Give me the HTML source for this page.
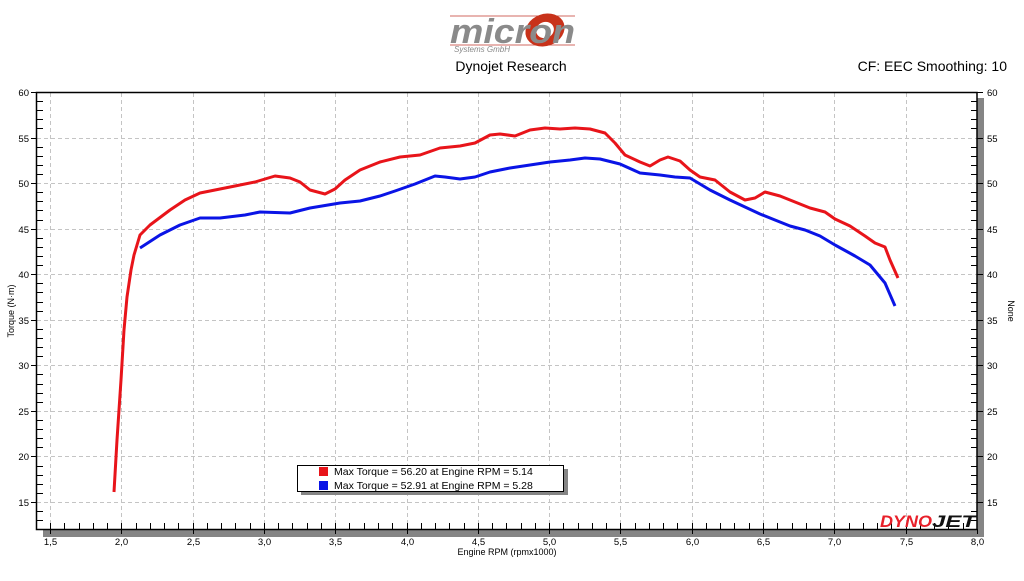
<!DOCTYPE html>
<html><head><meta charset="utf-8"><style>
body{margin:0;background:#fff;width:1024px;height:576px;overflow:hidden}
svg text{font-family:"Liberation Sans","DejaVu Sans",sans-serif}
</style></head><body>
<svg id="s" width="1024" height="576" viewBox="0 0 1024 576" xmlns="http://www.w3.org/2000/svg">
<rect width="1024" height="576" fill="#fff"/>
<!-- logo -->
<line x1="450" y1="16" x2="575" y2="16" stroke="#c0392b" stroke-width="0.8"/>
<line x1="450" y1="45" x2="575" y2="45" stroke="#c0392b" stroke-width="0.8"/>
<ellipse cx="545" cy="30" rx="20" ry="16" fill="#c8321a" transform="rotate(-20 545 30)"/>
<ellipse cx="545" cy="30" rx="9" ry="8" fill="#fff" transform="rotate(-20 545 30)"/>
<text x="450" y="43" font-size="34" font-style="italic" font-weight="bold" fill="#8a8a8a" textLength="125" lengthAdjust="spacingAndGlyphs">micron</text>
<text x="454" y="52" font-size="8" fill="#888" font-style="italic">Systems GmbH</text>
<text x="511" y="71" font-size="14" text-anchor="middle" fill="#000">Dynojet Research</text>
<text x="1007" y="71" font-size="14" text-anchor="end" fill="#000">CF: EEC Smoothing: 10</text>
<!-- shadows -->
<rect x="43" y="530" width="941" height="7" fill="#858585"/>
<rect x="977" y="98" width="7" height="439" fill="#858585"/>
<g id="grid" stroke="#c4c4c4" stroke-dasharray="4,3" stroke-width="1"></g>
<g id="ticks" stroke="#000" stroke-width="1"></g>
<rect x="36.5" y="92.5" width="940.5" height="437" fill="none" stroke="#000" stroke-width="1.5"/>
<g id="lbl" font-size="9.5" fill="#000"></g>
<text x="0" y="0" font-size="9" transform="translate(14 311) rotate(-90)" text-anchor="middle">Torque (N·m)</text>
<text x="0" y="0" font-size="9" transform="translate(1008 311) rotate(90)" text-anchor="middle">None</text>
<text x="507" y="555" font-size="9" text-anchor="middle">Engine RPM (rpmx1000)</text>
<polyline fill="none" stroke="#e8141a" stroke-width="3" stroke-linejoin="round" points="114,492 117,440 121,380 124,330 127,297 131,270 134,255 140,235 150,225 170,210 185,200 200,193 215,190 235,186 255,182 275,176 290,178 300,182 310,190 325,194 335,189 345,180 360,170 380,162 400,157 420,155 440,148 460,146 475,143 490,135 500,134 515,136 530,130 545,128 560,129 575,128 590,129 605,133 615,143 625,155 640,162 650,166 660,160 668,157 680,161 690,170 700,177 715,180 730,192 745,200 755,198 765,192 780,196 795,202 810,208 825,212 835,219 850,226 865,236 875,243 885,247 890,260 898,278"/>
<polyline fill="none" stroke="#0a14e6" stroke-width="3" stroke-linejoin="round" points="140,248 160,235 180,225 200,218 220,218 245,215 260,212 290,213 310,208 340,203 360,201 380,196 395,191 415,184 435,176 445,177 460,179 475,177 490,172 510,168 530,165 550,162 570,160 585,158 600,159 620,164 640,173 660,175 675,177 690,178 710,190 730,200 745,207 760,214 775,220 790,226 805,230 820,236 835,245 855,256 870,265 885,283 895,306"/>
<!-- legend -->
<rect x="301" y="469" width="267" height="26" fill="#858585"/>
<rect x="297.5" y="465.5" width="266" height="26" fill="#fff" stroke="#000"/>
<rect x="319" y="467" width="9" height="9" fill="#e8141a"/>
<rect x="319" y="481" width="9" height="9" fill="#0a14e6"/>
<text x="334" y="475" font-size="10.5">Max Torque = 56.20 at Engine RPM = 5.14</text>
<text x="334" y="489" font-size="10.5">Max Torque = 52.91 at Engine RPM = 5.28</text>
<!-- dynojet -->
<text x="880" y="527" font-size="17" font-weight="bold" font-style="italic" fill="#e8202a" textLength="52" lengthAdjust="spacingAndGlyphs">DYNO</text>
<text x="932" y="527" font-size="17" font-weight="bold" font-style="italic" fill="#111" textLength="44" lengthAdjust="spacingAndGlyphs">JET</text>
</svg>
<script>
var NS="http://www.w3.org/2000/svg";
function el(p,t,a,txt){var e=document.createElementNS(NS,t);for(var k in a)e.setAttribute(k,a[k]);if(txt!=null)e.textContent=txt;document.getElementById(p).appendChild(e);}
function X(r){return 50+(r-1.5)*142.6}
function Y(v){return 92+(60-v)*9.111}
for(var i=0;i<=13;i++){var r=1.5+i*0.5,x=Math.round(X(r))+0.5;
 if(i<13)el("grid","line",{x1:x,y1:93,x2:x,y2:529});
 el("ticks","line",{x1:x,y1:529,x2:x,y2:534});
 el("lbl","text",{x:x,y:545,"text-anchor":"middle"},r.toFixed(1).replace(".",","));}
for(var r=1.4;r<8;r+=0.1){var x=Math.round(X(r))+0.5;if(x>37&&x<976)el("ticks","line",{x1:x,y1:529,x2:x,y2:523});}
for(var v=13;v<=60;v++){var y=Math.round(Y(v))+0.5;
 if(v%5==0){ if(v<60)el("grid","line",{x1:37,y1:y,x2:977,y2:y});
  el("ticks","line",{x1:31,y1:y,x2:37,y2:y});el("ticks","line",{x1:977,y1:y,x2:983,y2:y});
  el("lbl","text",{x:29,y:y+3.5,"text-anchor":"end"},v);el("lbl","text",{x:987,y:y+3.5},v);}
 else{el("ticks","line",{x1:37,y1:y,x2:43,y2:y});el("ticks","line",{x1:971,y1:y,x2:977,y2:y});}}
</script>
</body></html>
